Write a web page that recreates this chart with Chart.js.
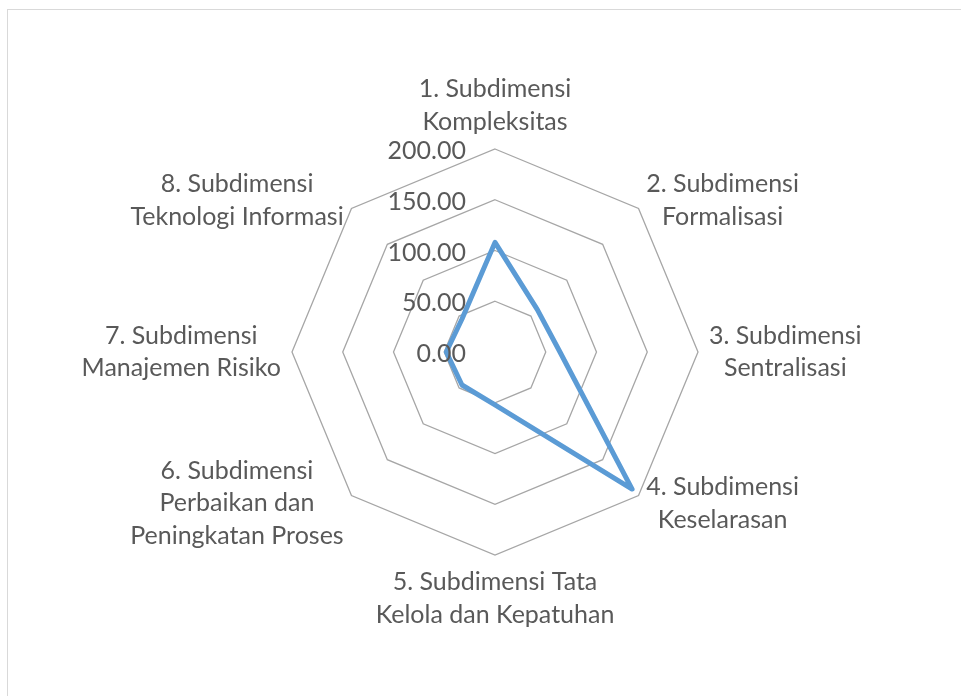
<!DOCTYPE html>
<html>
<head>
<meta charset="utf-8">
<script src="https://cdn.jsdelivr.net/npm/chart.js@4.4.1/dist/chart.umd.min.js"></script>
<style>
  html, body { margin: 0; padding: 0; background: #fff; }
  #wrap { position: relative; width: 961px; height: 696px; overflow: hidden; }
  #frame { position: absolute; left: 7px; top: 9px; width: 1000px; height: 1000px; border: 1px solid #d9d9d9; }
  canvas { position: absolute; left: 0; top: 0; }
</style>
</head>
<body>
<div id="wrap">
  <div id="frame"></div>
  <canvas id="radar" width="961" height="696"></canvas>
</div>
<script>
// category names, already broken into lines like the Excel labels
const categories = [
  ["1. Subdimensi", "Kompleksitas"],
  ["2. Subdimensi", "Formalisasi"],
  ["3. Subdimensi", "Sentralisasi"],
  ["4. Subdimensi", "Keselarasan"],
  ["5. Subdimensi Tata", "Kelola dan Kepatuhan"],
  ["6. Subdimensi", "Perbaikan dan", "Peningkatan Proses"],
  ["7. Subdimensi", "Manajemen Risiko"],
  ["8. Subdimensi", "Teknologi Informasi"]
];
const scores = [108, 59, 64, 191, 52, 46, 48, 46];
const tickValues = [0, 50, 100, 150, 200];

const labelFont = "25px Lato";
const textColor = "#595959";

// Excel style labels: values left of the top spoke, names outside the polygon
const excelLabels = {
  id: "excelLabels",
  afterDatasetsDraw(chart) {
    const scale = chart.scales.r;
    const ctx = chart.ctx;
    ctx.save();
    ctx.font = labelFont;
    ctx.fillStyle = textColor;
    ctx.textBaseline = "middle";

    ctx.textAlign = "right";
    tickValues.forEach(v => {
      const y = scale.yCenter - scale.getDistanceFromCenterForValue(v) + 2;
      ctx.fillText(v.toFixed(2), scale.xCenter - 29, y);
    });

    ctx.textAlign = "center";
    const lh = 32.5;
    categories.forEach((lines, i) => {
      const p0 = scale.getPointPosition(i, scale.drawingArea);
      const dx = p0.x - scale.xCenter, dy = p0.y - scale.yCenter;
      const vertical = Math.abs(dx) < 1;
      const p = scale.getPointPosition(i, scale.drawingArea + 11);
      const w = Math.max(...lines.map(t => ctx.measureText(t).width));
      const h = lines.length * lh;
      let cx = p.x, top = p.y - h / 2;
      if (vertical) {
        top = dy < 0 ? p.y - h : p.y;
      } else {
        cx = dx > 0 ? p.x + w / 2 : p.x - w / 2;
      }
      lines.forEach((t, k) => ctx.fillText(t, cx, top + lh * k + lh / 2));
    });
    ctx.restore();
  }
};

new Chart(document.getElementById("radar"), {
  type: "radar",
  data: {
    labels: categories,
    datasets: [{
      data: scores,
      borderColor: "#5B9BD5",
      borderWidth: 5,
      borderJoinStyle: "round",
      fill: false,
      pointRadius: 0,
      pointHoverRadius: 0
    }]
  },
  options: {
    responsive: false,
    animation: false,
    devicePixelRatio: 1,
    layout: { padding: { left: 100, right: 71, top: 149, bottom: 141 } },
    plugins: { legend: { display: false }, tooltip: { enabled: false } },
    scales: {
      r: {
        min: 0,
        max: 200,
        ticks: { stepSize: 50, display: false },
        grid: { color: "#a6a6a6", lineWidth: 1.3 },
        angleLines: { display: false },
        pointLabels: { display: false }
      }
    }
  },
  plugins: [excelLabels]
});
</script>
</body>
</html>
